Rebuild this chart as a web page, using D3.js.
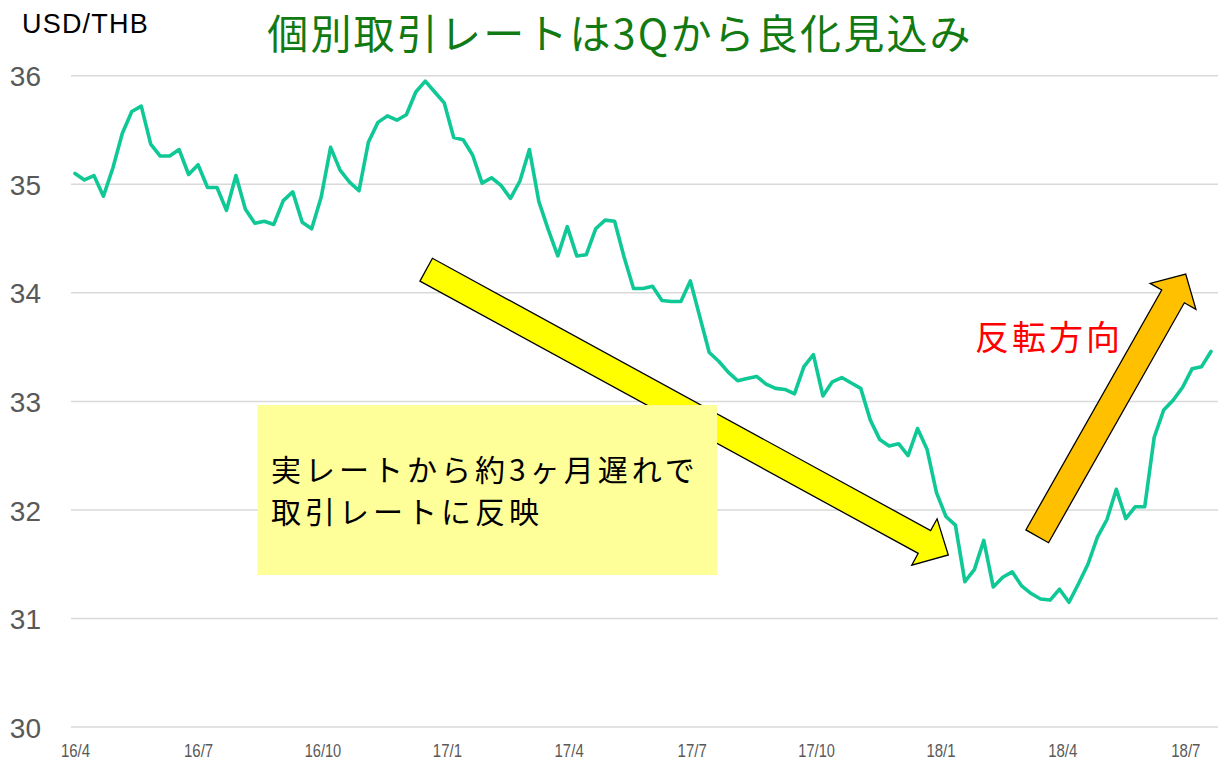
<!DOCTYPE html>
<html><head><meta charset="utf-8">
<script src="https://cdn.jsdelivr.net/npm/d3@7"></script>
<style>
html,body{margin:0;padding:0;background:#fff;}
svg{display:block;}
</style></head>
<body>
<svg id="chart" width="1218" height="763"></svg>
<script>
// ---- data ----
const startDate = "2016-04-01";
const rates = [
35.10,35.04,35.08,34.89,35.15,35.47,35.67,35.72,35.37,35.26,
35.26,35.32,35.09,35.18,34.97,34.97,34.76,35.08,34.77,34.64,
34.66,34.63,34.85,34.93,34.65,34.59,34.88,35.34,35.13,35.02,
34.94,35.39,35.57,35.63,35.59,35.64,35.85,35.95,35.85,35.75,
35.43,35.41,35.27,35.01,35.06,34.99,34.87,35.03,35.32,34.84,
34.58,34.34,34.61,34.34,34.35,34.59,34.67,34.66,34.33,34.04,
34.04,34.06,33.93,33.92,33.92,34.11,33.78,33.45,33.37,33.27,
33.19,33.21,33.23,33.16,33.12,33.11,33.07,33.32,33.43,33.05,
33.18,33.22,33.17,33.12,32.83,32.65,32.59,32.61,32.50,32.75,
32.56,32.16,31.94,31.86,31.34,31.45,31.72,31.29,31.38,31.43,
31.30,31.23,31.18,31.17,31.27,31.15,31.32,31.50,31.75,31.91,
32.19,31.92,32.03,32.03,32.67,32.92,33.01,33.13,33.30,33.32,
33.46
];
const tickMonths = ["2016-04-01","2016-07-01","2016-10-01","2017-01-01","2017-04-01","2017-07-01","2017-10-01","2018-01-01","2018-04-01","2018-07-01"];
const tickLabels = ["16/4","16/7","16/10","17/1","17/4","17/7","17/10","18/1","18/4","18/7"];
const yTicks = [30,31,32,33,34,35,36];
const title = "個別取引レートは3Qから良化見込み";
const unitLabel = "USD/THB";
const noteLines = ["実レートから約3ヶ月遅れで","取引レートに反映"];
const reverseLabel = "反転方向";

// ---- build ----
const parse = d3.utcParse("%Y-%m-%d");
const t0 = parse(startDate);
const series = rates.map((v,i)=>({date: d3.utcDay.offset(t0, 7*i), value: v}));

const svg = d3.select("#chart");
const x = d3.scaleUtc().domain([series[0].date, series[series.length-1].date]).range([75, 1211]);
const y = d3.scaleLinear().domain([30,36]).range([727.1, 75.7]);

// gridlines
svg.append("g").selectAll("line").data(yTicks).join("line")
  .attr("x1", 71).attr("x2", 1218)
  .attr("y1", d=>y(d)).attr("y2", d=>y(d))
  .attr("stroke", "#d9d9d9").attr("stroke-width", 1.5);

// y axis labels
const yAxis = d3.axisLeft(y).tickValues(yTicks).tickSize(0).tickPadding(0).tickFormat(d3.format("d"));
const gy = svg.append("g").attr("transform","translate(41,0)").call(yAxis);
gy.select(".domain").remove();
gy.selectAll("text").attr("font-family","'Liberation Sans', Arial, sans-serif")
  .attr("font-size", 28).attr("fill","#595959").attr("dy","0.36em");

// x axis labels
const xAxis = d3.axisBottom(x).tickValues(tickMonths.map(parse)).tickSize(0).tickPadding(0)
  .tickFormat((d,i)=>tickLabels[i]);
const gx = svg.append("g").attr("transform","translate(0,743)").call(xAxis);
gx.select(".domain").remove();
gx.selectAll("text").attr("font-family","'Liberation Sans', Arial, sans-serif")
  .attr("font-size", 19).attr("fill","#595959").attr("dy","0.71em")
  .attr("textLength", function(d,i){ return tickLabels[i].length*7.3; })
  .attr("lengthAdjust","spacingAndGlyphs");

// line
const line = d3.line().x(d=>x(d.date)).y(d=>y(d.value));
svg.append("path").datum(series).attr("d", line)
  .attr("fill","none").attr("stroke","#0fc896").attr("stroke-width",3.6)
  .attr("stroke-linejoin","round").attr("stroke-linecap","round");

// arrow helper
function arrowPoly(tail, tip, shaftHalf, headHalf, headLen){
  const dx = tip[0]-tail[0], dy = tip[1]-tail[1];
  const L = Math.hypot(dx,dy), ux = dx/L, uy = dy/L, px = -uy, py = ux;
  const bx = tip[0]-ux*headLen, by = tip[1]-uy*headLen;
  return [
    [tail[0]+px*shaftHalf, tail[1]+py*shaftHalf],
    [bx+px*shaftHalf, by+py*shaftHalf],
    [bx+px*headHalf, by+py*headHalf],
    tip,
    [bx-px*headHalf, by-py*headHalf],
    [bx-px*shaftHalf, by-py*shaftHalf],
    [tail[0]-px*shaftHalf, tail[1]-py*shaftHalf]
  ];
}
const polyLine = d3.line().curve(d3.curveLinearClosed);

// yellow arrow
svg.append("path").attr("d", polyLine(arrowPoly([426.2,269.7],[948.3,555],13,26.4,27.2)))
  .attr("fill","#ffff00").attr("stroke","#000").attr("stroke-width",1.3).attr("stroke-linejoin","miter");

// note box
svg.append("rect").attr("x",257.5).attr("y",405).attr("width",459.5).attr("height",170).attr("fill","#ffff99");
svg.append("g").selectAll("text").data(noteLines).join("text")
  .attr("x",271).attr("y",(d,i)=>481+i*42)
  .attr("font-family","'Noto Sans CJK JP', sans-serif").attr("font-size",30)
  .attr("letter-spacing",4).attr("fill","#000").text(d=>d);

// orange arrow
svg.append("path").attr("d", polyLine(arrowPoly([1037.2,536.3],[1185.7,274],13,26.3,25.7)))
  .attr("fill","#ffc000").attr("stroke","#000").attr("stroke-width",1.3).attr("stroke-linejoin","miter");

// red label
svg.append("text").attr("x",975).attr("y",350)
  .attr("font-family","'Noto Sans CJK JP', sans-serif").attr("font-size",34)
  .attr("letter-spacing",3).attr("fill","#ff0000").text(reverseLabel);

// title
svg.append("text").attr("x",620).attr("y",48.5).attr("text-anchor","middle")
  .attr("font-family","'Noto Sans CJK JP', sans-serif").attr("font-size",41)
  .attr("letter-spacing",2.2).attr("fill","#127a12").text(title);

// unit label
svg.append("text").attr("x",22).attr("y",33)
  .attr("font-family","'Liberation Sans', Arial, sans-serif").attr("font-size",27)
  .attr("letter-spacing",1.2).attr("fill","#000").text(unitLabel);
</script>
</body></html>
